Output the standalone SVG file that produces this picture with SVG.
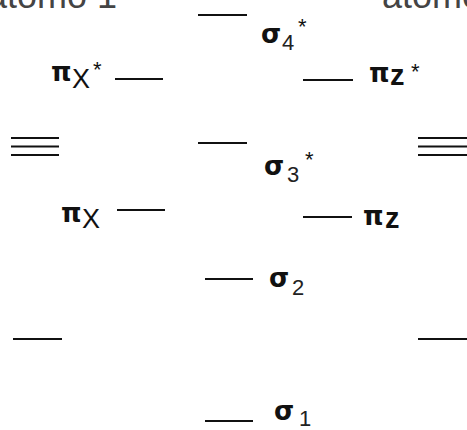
<svg xmlns="http://www.w3.org/2000/svg" width="467" height="430" viewBox="0 0 467 430">
<style>
.lv{stroke:#111;stroke-width:2;fill:none}
.hd{font-family:"Liberation Sans",Arial,sans-serif;font-size:36px;fill:#444}
.g{font-family:"DejaVu Sans",sans-serif;font-size:26px;font-weight:bold;fill:#111}
.s{font-family:"Liberation Sans",Arial,sans-serif;font-size:22px;fill:#222}
.a{font-family:"Liberation Sans",Arial,sans-serif;font-size:22px;fill:#111}
.bx{font-family:"Liberation Sans",Arial,sans-serif;font-size:27px;fill:#111}
.bz{font-family:"Liberation Sans",Arial,sans-serif;font-size:29px;font-weight:bold;fill:#111}
</style>
<rect width="467" height="430" fill="#fff"/>
<g id="headers">
<text class="hd" x="-13" y="8">átomo 1</text>
<text class="hd" x="382" y="8">átomo 2</text>
</g>
<g id="levels">
<line class="lv" x1="198" y1="15" x2="247" y2="15"/>
<line class="lv" x1="115" y1="79" x2="163" y2="79"/>
<line class="lv" x1="303" y1="80" x2="353" y2="80"/>
<line class="lv" x1="11" y1="138" x2="59" y2="138"/>
<line class="lv" x1="11" y1="146.5" x2="59" y2="146.5"/>
<line class="lv" x1="11" y1="155" x2="59" y2="155"/>
<line class="lv" x1="418" y1="138" x2="467" y2="138"/>
<line class="lv" x1="418" y1="146.5" x2="467" y2="146.5"/>
<line class="lv" x1="418" y1="155" x2="467" y2="155"/>
<line class="lv" x1="198" y1="143" x2="247" y2="143"/>
<line class="lv" x1="117" y1="210" x2="165" y2="210"/>
<line class="lv" x1="303" y1="217" x2="352" y2="217"/>
<line class="lv" x1="205" y1="279" x2="253" y2="279"/>
<line class="lv" x1="13" y1="339" x2="62" y2="339"/>
<line class="lv" x1="418" y1="339" x2="467" y2="339"/>
<line class="lv" x1="205" y1="421" x2="253" y2="421"/>
</g>
<g id="labels">
<text class="g" x="261" y="43">σ</text><text class="s" x="282" y="50">4</text><text class="a" x="298" y="34">*</text>
<text class="g" x="51" y="81">π</text><text class="bx" x="72" y="88">X</text><text class="a" x="93" y="77">*</text>
<text class="g" x="369" y="82">π</text><text class="bz" x="390" y="85">z</text><text class="a" x="411" y="79">*</text>
<text class="g" x="363" y="225">π</text><text class="bz" x="385" y="228">z</text>
<text class="g" x="264" y="175">σ</text><text class="s" x="287" y="182">3</text><text class="a" x="305" y="167">*</text>
<text class="g" x="61" y="222">π</text><text class="bx" x="82" y="228">X</text>
<text class="g" x="269" y="287">σ</text><text class="s" x="292" y="295">2</text>
<text class="g" x="274" y="420">σ</text><text class="s" x="299" y="426">1</text>
</g>
</svg>
